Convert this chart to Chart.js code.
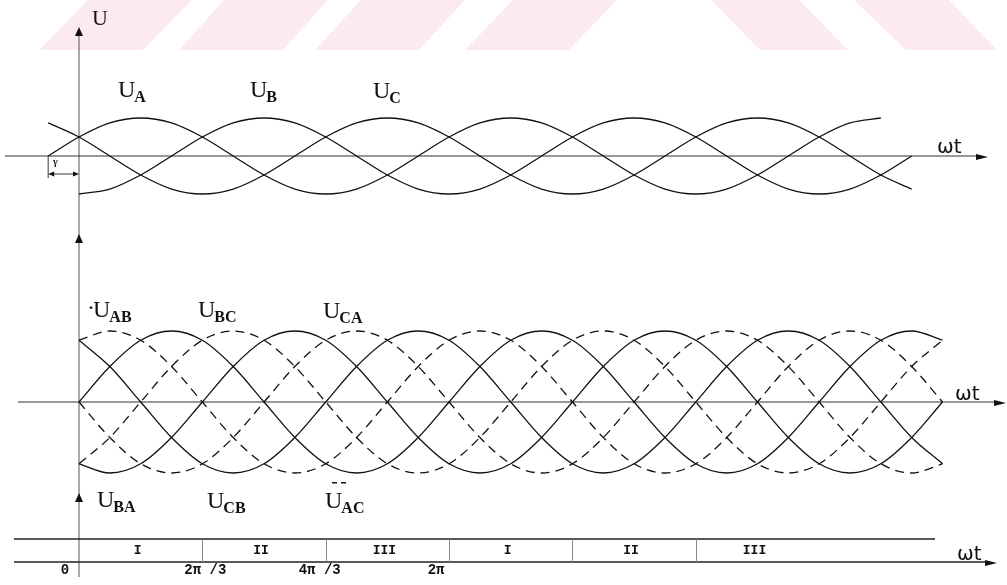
<!DOCTYPE html>
<html>
<head>
<meta charset="utf-8">
<script src="https://cdn.jsdelivr.net/npm/chart.js@4.4.0/dist/chart.umd.min.js"></script>
<style>
  html, body { margin: 0; padding: 0; background: #fff; }
  #wrap { width: 1007px; height: 585px; position: relative; }
</style>
</head>
<body>
<div id="wrap"><canvas id="c" width="1007" height="585"></canvas></div>
<script>
// ωt in degrees, sampled every 30°
const anglesA = [-30, 0, 30, 60, 90, 120, 150, 180, 210, 240, 270, 300, 330, 360, 390, 420, 450, 480, 510, 540, 570, 600, 630, 660, 690, 720, 750, 780];
const anglesB = [0, 30, 60, 90, 120, 150, 180, 210, 240, 270, 300, 330, 360, 390, 420, 450, 480, 510, 540, 570, 600, 630, 660, 690, 720, 750, 780, 810];
const anglesC = [-30, 0, 30, 60, 90, 120, 150, 180, 210, 240, 270, 300, 330, 360, 390, 420, 450, 480, 510, 540, 570, 600, 630, 660, 690, 720, 750, 780, 810];
const lineAngles = [0, 30, 60, 90, 120, 150, 180, 210, 240, 270, 300, 330, 360, 390, 420, 450, 480, 510, 540, 570, 600, 630, 660, 690, 720, 750, 780, 810, 840];

// Phase voltages (per unit)
const uA = [0, .5, .87, 1, .87, .5, 0, -.5, -.87, -1, -.87, -.5, 0, .5, .87, 1, .87, .5, 0, -.5, -.87, -1, -.87, -.5, 0, .5, .87, 1];
const uB = [-1, -.87, -.5, 0, .5, .87, 1, .87, .5, 0, -.5, -.87, -1, -.87, -.5, 0, .5, .87, 1, .87, .5, 0, -.5, -.87, -1, -.87, -.5, 0];
const uC = [.87, .5, 0, -.5, -.87, -1, -.87, -.5, 0, .5, .87, 1, .87, .5, 0, -.5, -.87, -1, -.87, -.5, 0, .5, .87, 1, .87, .5, 0, -.5, -.87];

// Line voltages (per unit of line amplitude)
const uAB = [.87, 1, .87, .5, 0, -.5, -.87, -1, -.87, -.5, 0, .5, .87, 1, .87, .5, 0, -.5, -.87, -1, -.87, -.5, 0, .5, .87, 1, .87, .5, 0];
const uBC = [-.87, -.5, 0, .5, .87, 1, .87, .5, 0, -.5, -.87, -1, -.87, -.5, 0, .5, .87, 1, .87, .5, 0, -.5, -.87, -1, -.87, -.5, 0, .5, .87];
const uCA = [0, -.5, -.87, -1, -.87, -.5, 0, .5, .87, 1, .87, .5, 0, -.5, -.87, -1, -.87, -.5, 0, .5, .87, 1, .87, .5, 0, -.5, -.87, -1, -.87];
const uBA = [-.87, -1, -.87, -.5, 0, .5, .87, 1, .87, .5, 0, -.5, -.87, -1, -.87, -.5, 0, .5, .87, 1, .87, .5, 0, -.5, -.87, -1, -.87, -.5, 0];
const uCB = [.87, .5, 0, -.5, -.87, -1, -.87, -.5, 0, .5, .87, 1, .87, .5, 0, -.5, -.87, -1, -.87, -.5, 0, .5, .87, 1, .87, .5, 0, -.5, -.87];
const uAC = [0, .5, .87, 1, .87, .5, 0, -.5, -.87, -1, -.87, -.5, 0, .5, .87, 1, .87, .5, 0, -.5, -.87, -1, -.87, -.5, 0, .5, .87, 1, .87];

// Conduction intervals and ωt tick labels
const intervalBounds = [0, 120, 240, 360, 480, 600, 720];
const intervalNames = ['I', 'II', 'III', 'I', 'II', 'III'];
const tickValues = [0, 120, 240, 360];
const tickLabels = ['0', '2π /3', '4π /3', '2π'];

// ---- layout of the canvas ----
const W = 1007, H = 585;
const ORIGIN_PX = 79, PX_PER_DEG = 1.028;
const TOP_ZERO = 156, TOP_AMP = 38;
const MID_ZERO = 402, MID_AMP = 71;

function series(angles, values, axis, dashed) {
  return {
    data: angles.map((a, i) => ({ x: a, y: values[i] })),
    yAxisID: axis,
    borderColor: '#111',
    borderWidth: 1.3,
    borderDash: dashed ? [9, 6] : [],
    pointRadius: 0,
    cubicInterpolationMode: 'monotone',
    fill: false
  };
}

function arrowHead(ctx, x, y, dir, len, half) {
  ctx.beginPath();
  if (dir === 'right') { ctx.moveTo(x, y); ctx.lineTo(x - len, y - half); ctx.lineTo(x - len, y + half); }
  else if (dir === 'left') { ctx.moveTo(x, y); ctx.lineTo(x + len, y - half); ctx.lineTo(x + len, y + half); }
  else { ctx.moveTo(x, y); ctx.lineTo(x - half, y + len); ctx.lineTo(x + half, y + len); }
  ctx.closePath();
  ctx.fill();
}

function subLabel(ctx, x, base, main, sub, pre) {
  ctx.textAlign = 'left';
  ctx.textBaseline = 'alphabetic';
  ctx.font = '24px "Liberation Serif", serif';
  let cx = x;
  if (pre) { ctx.fillText(pre, cx - 6, base - 2); }
  ctx.fillText(main, cx, base);
  cx += ctx.measureText(main).width - 1;
  ctx.font = 'bold 16px "Liberation Serif", serif';
  ctx.fillText(sub, cx, base + 5);
}

const decor = {
  id: 'decor',
  beforeDraw(chart) {
    const ctx = chart.ctx;
    ctx.save();
    ctx.fillStyle = '#fdeaee';
    const shapes = [
      [[39, 50], [143, 50], [192, 0], [88, 0]],
      [[179, 50], [283, 50], [328, 0], [224, 0]],
      [[315, 50], [419, 50], [465, 0], [361, 0]],
      [[465, 50], [569, 50], [617, 0], [513, 0]],
      [[760, 50], [848, 50], [799, 0], [711, 0]],
      [[906, 50], [997, 50], [949, 0], [854, 0]]
    ];
    shapes.forEach(s => {
      ctx.beginPath();
      s.forEach((p, i) => i ? ctx.lineTo(p[0], p[1]) : ctx.moveTo(p[0], p[1]));
      ctx.closePath();
      ctx.fill();
    });
    ctx.restore();
  },
  beforeDatasetsDraw(chart) {
    const ctx = chart.ctx;
    const xs = chart.scales.x, yt = chart.scales.yTop, ym = chart.scales.yMid;
    const x0 = xs.getPixelForValue(0);
    const yTop0 = yt.getPixelForValue(0);
    const yMid0 = ym.getPixelForValue(0);
    ctx.save();
    ctx.fillStyle = '#111';

    // vertical axis through all three panels
    ctx.strokeStyle = '#555';
    ctx.lineWidth = 1;
    ctx.beginPath(); ctx.moveTo(x0, 30); ctx.lineTo(x0, 577); ctx.stroke();
    arrowHead(ctx, x0, 27, 'up', 9, 4);
    arrowHead(ctx, x0, 234, 'up', 9, 4);
    arrowHead(ctx, x0, 493, 'up', 9, 4);

    // horizontal axes
    ctx.strokeStyle = '#333';
    ctx.lineWidth = 1.1;
    ctx.beginPath(); ctx.moveTo(5, yTop0); ctx.lineTo(980, yTop0); ctx.stroke();
    arrowHead(ctx, 988, yTop0 + 1, 'right', 12, 3);
    ctx.beginPath(); ctx.moveTo(18, yMid0); ctx.lineTo(998, yMid0); ctx.stroke();
    arrowHead(ctx, 1006, yMid0 + 1, 'right', 12, 3);

    // interval strip
    ctx.strokeStyle = '#222';
    ctx.lineWidth = 1.4;
    ctx.beginPath(); ctx.moveTo(14, 539); ctx.lineTo(935, 539); ctx.stroke();
    ctx.beginPath(); ctx.moveTo(14, 562); ctx.lineTo(988, 562); ctx.stroke();
    arrowHead(ctx, 997, 563, 'right', 12, 3);
    ctx.strokeStyle = '#888';
    ctx.lineWidth = 1;
    intervalBounds.slice(1, -1).forEach(v => {
      const px = Math.round(xs.getPixelForValue(v)) + 0.5;
      ctx.beginPath(); ctx.moveTo(px, 539); ctx.lineTo(px, 562); ctx.stroke();
    });

    // γ offset marker
    const xg = xs.getPixelForValue(-30);
    ctx.strokeStyle = '#333';
    ctx.beginPath(); ctx.moveTo(xg, yTop0); ctx.lineTo(xg, 178); ctx.stroke();
    ctx.beginPath(); ctx.moveTo(xg + 4, 174); ctx.lineTo(x0 - 4, 174); ctx.stroke();
    arrowHead(ctx, xg, 174, 'left', 6, 2.5);
    arrowHead(ctx, x0, 174, 'right', 6, 2.5);
    ctx.restore();
  },
  afterDatasetsDraw(chart) {
    const ctx = chart.ctx;
    const xs = chart.scales.x;
    ctx.save();
    ctx.fillStyle = '#111';

    // axis names
    ctx.font = '22px "Liberation Serif", serif';
    ctx.textAlign = 'left';
    ctx.fillText('U', 92, 25);
    ctx.font = '20px "DejaVu Sans", sans-serif';
    ctx.fillText('ωt', 937, 153);
    ctx.fillText('ωt', 955, 400);
    ctx.fillText('ωt', 957, 560);
    ctx.font = 'bold 10px "Liberation Serif", serif';
    ctx.fillText('γ', 53, 165);

    // curve names
    subLabel(ctx, 118, 97, 'U', 'A');
    subLabel(ctx, 250, 97, 'U', 'B');
    subLabel(ctx, 373, 98, 'U', 'C');
    subLabel(ctx, 93, 317, 'U', 'AB', '·');
    subLabel(ctx, 198, 317, 'U', 'BC');
    subLabel(ctx, 323, 318, 'U', 'CA');
    subLabel(ctx, 97, 507, 'U', 'BA');
    subLabel(ctx, 207, 508, 'U', 'CB');
    subLabel(ctx, 325, 508, 'U', 'AC');
    ctx.fillRect(332, 482, 5, 1.5);
    ctx.fillRect(341, 482, 5, 1.5);

    // interval names
    ctx.font = 'bold 13px "Liberation Mono", monospace';
    ctx.textAlign = 'center';
    intervalNames.forEach((n, i) => {
      const mid = (intervalBounds[i] + intervalBounds[i + 1]) / 2;
      ctx.fillText(n, xs.getPixelForValue(mid) - 3, 554);
    });

    // ωt ticks
    ctx.font = 'bold 14px "Liberation Mono", monospace';
    const nudge = [-14, 3, -6, -13];
    tickValues.forEach((v, i) => {
      ctx.fillText(tickLabels[i], xs.getPixelForValue(v) + nudge[i], 574);
    });
    ctx.restore();
  }
};

new Chart(document.getElementById('c'), {
  type: 'line',
  data: {
    datasets: [
      series(anglesA, uA, 'yTop', false),
      series(anglesB, uB, 'yTop', false),
      series(anglesC, uC, 'yTop', false),
      series(lineAngles, uAB, 'yMid', true),
      series(lineAngles, uBC, 'yMid', true),
      series(lineAngles, uCA, 'yMid', true),
      series(lineAngles, uBA, 'yMid', false),
      series(lineAngles, uCB, 'yMid', false),
      series(lineAngles, uAC, 'yMid', false)
    ]
  },
  options: {
    responsive: false,
    animation: false,
    devicePixelRatio: 1,
    events: [],
    layout: { padding: 0 },
    plugins: { legend: { display: false }, tooltip: { enabled: false }, title: { display: false } },
    scales: {
      x: { type: 'linear', display: false, min: -ORIGIN_PX / PX_PER_DEG, max: (W - ORIGIN_PX) / PX_PER_DEG },
      yTop: { type: 'linear', display: false, min: (TOP_ZERO - H) / TOP_AMP, max: TOP_ZERO / TOP_AMP },
      yMid: { type: 'linear', display: false, min: (MID_ZERO - H) / MID_AMP, max: MID_ZERO / MID_AMP }
    }
  },
  plugins: [decor]
});
</script>
</body>
</html>
